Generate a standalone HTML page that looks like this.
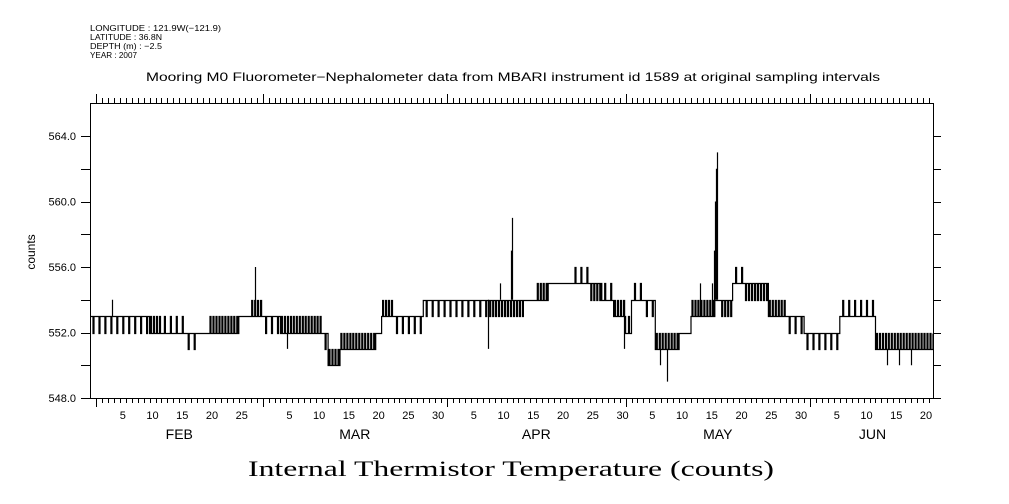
<!DOCTYPE html>
<html><head><meta charset="utf-8"><style>
html,body{margin:0;padding:0;background:#fff}
svg{display:block}
text{font-family:"Liberation Sans",sans-serif;fill:#000}
</style></head><body>
<svg id="chart" width="1009" height="504" viewBox="0 0 1009 504" xmlns="http://www.w3.org/2000/svg">
<g font-size="8.5">
<text x="90" y="31" textLength="131" lengthAdjust="spacingAndGlyphs">LONGITUDE : 121.9W(−121.9)</text>
<text x="90" y="40" textLength="72" lengthAdjust="spacingAndGlyphs">LATITUDE : 36.8N</text>
<text x="90" y="49" textLength="72" lengthAdjust="spacingAndGlyphs">DEPTH (m) : −2.5</text>
<text x="90" y="58" textLength="47" lengthAdjust="spacingAndGlyphs">YEAR : 2007</text>
</g>
<text x="146" y="81" font-size="12" textLength="734" lengthAdjust="spacingAndGlyphs">Mooring M0 Fluorometer−Nephalometer data from MBARI instrument id 1589 at original sampling intervals</text>
<text transform="translate(35,252) rotate(-90)" font-size="12" text-anchor="middle">counts</text>
<text x="248" y="476" font-size="22" textLength="526" lengthAdjust="spacingAndGlyphs" style="font-family:'Liberation Serif',serif">Internal Thermistor Temperature (counts)</text>
<rect x="90.5" y="103.5" width="843" height="295" fill="none" stroke="#000" stroke-width="1"/>
<g id="axes"></g>
<g id="series"></g>
</svg>
<script>
// day index t: 0 = Feb 1 ; rows cover t = -1 .. 140
const levelDays = [-1,9,11,15,17,19,24,26,28,31,38,39,41,47,48,50,55,66,70,72,74,76,80,83,85,87,89,90,92,94,98,100,104,105,107,109,113,116,119,125,131];
const baseVals  = [553,552,552,552,552,552,553,553,553,552,552,550,551,552,553,553,554,554,554,554,554,555,555,555,554,553,552,554,554,551,552,553,554,554,555,555,553,553,552,553,551];
const altVals   = [552,553,553,551,552,553,553,554,552,553,551,551,552,552,554,552,553,553,553,554,555,555,556,554,555,554,553,555,553,552,552,554,554,553,556,554,554,552,551,554,552];
const density   = [1,2,1,1,0,2,0,2,1,2,1,2,2,0,2,1,1,2,2,0,2,0,1,2,1,2,1,1,1,2,0,2,0,2,1,2,2,1,1,1,2];
const spikeDays = [2.7,26.8,32.1,65.8,67.9,69.7,69.9,88.8,94.8,96.0,101.5,103.6,103.8,104.0,104.2,104.4,133,135,137];
const spikeVals = [554,556,551,551,555,557,559,551,550,549,555,555,557,560,562,563,550,550,550];
const yTicks = [548,550,552,554,556,558,560,562,564];
const yLabels = ["548.0","552.0","556.0","560.0","564.0"];
const months = ["FEB","MAR","APR","MAY","JUN"];
const monthStart = [0,28,59,89,120];
const monthLen = [28,31,30,31,21];

const NS="http://www.w3.org/2000/svg";
const X0=96, DX=5.95, PL=90, PR=933, PT=103, PB=398;
const xs = t => X0 + DX*t;
const ys = v => PB - (v-548)*16.375;
function mk(tag, attrs, parent){const e=document.createElementNS(NS,tag);for(const k in attrs)e.setAttribute(k,attrs[k]);parent.appendChild(e);return e;}
const axes=document.getElementById('axes'), series=document.getElementById('series');

yTicks.forEach(v=>{
  const y=Math.round(ys(v))+0.5;
  const l=mk('line',{x1:PL-9,x2:PL,y1:y,y2:y,stroke:'#000'},axes);
  
  
  const r=mk('line',{x1:PR,x2:PR+8,y1:y,y2:y,stroke:'#000'},axes);
  
  
});
yLabels.forEach(s=>{
  const t=mk('text',{x:76,y:ys(parseFloat(s))+4,'font-size':11,'text-anchor':'end'},axes);
  t.textContent=s;
  
  
});
for(let t=0;t<=140;t++){
  const isMonth=monthStart.includes(t);
  const x=Math.round(xs(t))+0.5;
  const L=isMonth?9:5;
  const b=mk('line',{x1:x,x2:x,y1:PB,y2:PB+L,stroke:'#000'},axes);
  
  
  const tp=mk('line',{x1:x,x2:x,y1:PT-L,y2:PT,stroke:'#000'},axes);
  
  
}
months.forEach((m,i)=>{
  for(let d=5;d<=monthLen[i];d+=5){
    const t=mk('text',{x:xs(monthStart[i]+d-0.5),y:419,'font-size':11,'text-anchor':'middle'},axes);
    t.textContent=String(d);
    
    
  }
  const ml=mk('text',{x:xs(monthStart[i]+monthLen[i]/2),y:439,'font-size':14,'text-anchor':'middle'},axes);
  ml.textContent=m;
  
  
});

function rowFor(t){let r=0;for(let i=0;i<levelDays.length;i++)if(levelDays[i]<=t)r=i;return r;}
const P2=[0,1,0,0,1,0], P1=[0,0,0,1,0,0];
let d='';const N=6;let first=true;
for(let t=-1;t<141;t++){
  const r=rowFor(t);
  for(let k=0;k<N;k++){
    let v=baseVals[r];
    if(density[r]===2 && P2[k]) v=altVals[r];
    if(density[r]===1 && P1[k]) v=altVals[r];
    const xa=Math.max(PL,xs(t+k/N)), xb=Math.min(PR,xs(t+(k+1)/N));
    if(xb<=xa) continue;
    const y=Math.round(ys(v))+0.5;
    d+=(first?'M':'L')+xa.toFixed(1)+' '+y+' L'+xb.toFixed(1)+' '+y+' ';
    first=false;
  }
}
const p=mk('path',{d:d,fill:'none',stroke:'#000','stroke-width':1.2},series);


spikeDays.forEach((t,i)=>{
  const r=rowFor(Math.floor(t));
  const x=Math.round(xs(t))+0.5;
  const s=mk('line',{x1:x,x2:x,y1:ys(baseVals[r]),y2:ys(spikeVals[i]),stroke:'#000','stroke-width':1.2},series);
  
  
});
</script>
</body></html>
